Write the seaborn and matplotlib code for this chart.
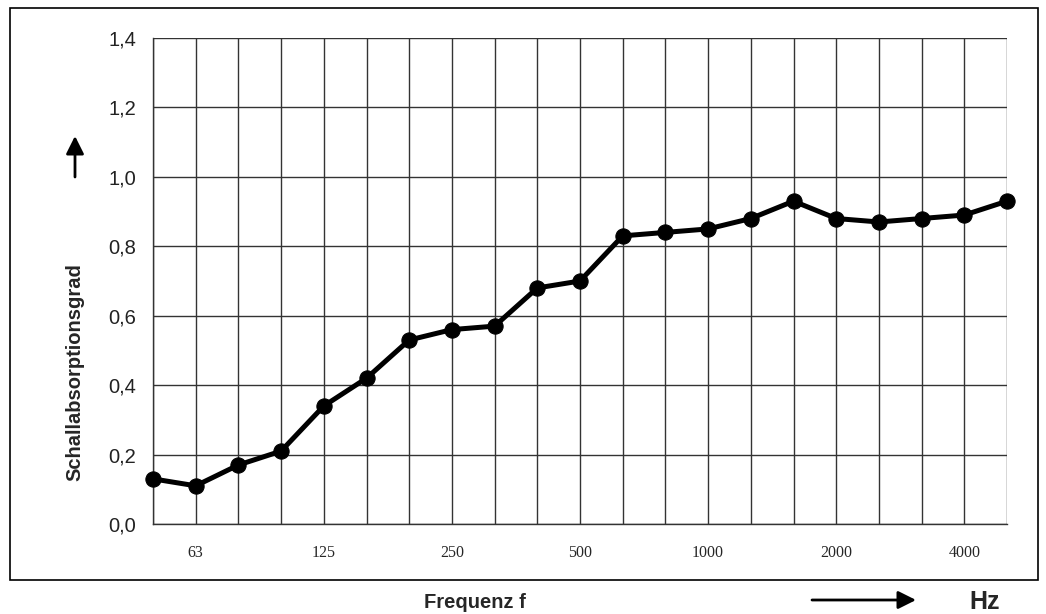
import numpy as np
import pandas as pd
import matplotlib
matplotlib.use("Agg")
import matplotlib.pyplot as plt
import seaborn as sns
from matplotlib.patches import Rectangle

# Terzband-Frequenzen und Schallabsorptionsgrad
frequencies = ["50", "63", "80", "100", "125", "160", "200", "250", "315", "400", "500",
               "630", "800", "1000", "1250", "1600", "2000", "2500", "3150", "4000", "5000"]
absorption = [0.13, 0.11, 0.17, 0.21, 0.34, 0.42, 0.53, 0.56, 0.57, 0.68, 0.70,
              0.83, 0.84, 0.85, 0.88, 0.93, 0.88, 0.87, 0.88, 0.89, 0.93]
labelled = ["63", "125", "250", "500", "1000", "2000", "4000"]
y_ticks = [0.0, 0.2, 0.4, 0.6, 0.8, 1.0, 1.2, 1.4]

df = pd.DataFrame({"pos": np.arange(len(frequencies)), "freq": frequencies, "alpha": absorption})

sns.set_style("white")
plt.rcParams["font.family"] = ["Liberation Sans", "DejaVu Sans"]

fig = plt.figure(figsize=(10.46, 6.14), dpi=100)
ax = fig.add_axes([153 / 1046, 1 - 524 / 614, (1007 - 153) / 1046, (524 - 38) / 614])

sns.lineplot(data=df, x="pos", y="alpha", ax=ax, color="black", linewidth=3.6,
             marker="o", markersize=11, markeredgecolor="black", zorder=5, clip_on=False)

ax.set_xlim(0, len(frequencies) - 1)
ax.set_ylim(0, 1.4)
ax.set_xticks(df["pos"])
ax.set_xticklabels([f if f in labelled else "" for f in frequencies],
                   family="Liberation Serif", fontsize=11.5)
ax.set_yticks(y_ticks)
ax.set_yticklabels([f"{v:.1f}".replace(".", ",") for v in y_ticks], fontsize=14.5, color="#222222")
ax.tick_params(axis="both", direction="out", length=6, width=1, color="#444444", pad=6)
ax.tick_params(axis="x", pad=9)
ax.grid(True, color="#333333", linewidth=1)
for s in ["top", "right"]:
    ax.spines[s].set_visible(False)
for s in ["left", "bottom"]:
    ax.spines[s].set_color("#333333")
    ax.spines[s].set_linewidth(1)
ax.set_xlabel("")
ax.set_ylabel("")

# outer frame
fig.patches.append(Rectangle((10 / 1046, 1 - 580 / 614), (1038 - 10) / 1046, (580 - 8) / 614,
                             transform=fig.transFigure, fill=False, edgecolor="black", linewidth=1.2))

fig.text(75 / 1046, 1 - 372 / 614, "Schallabsorptionsgrad", rotation=90, fontsize=14.5,
         fontweight="bold", ha="center", va="center")
fig.text(475 / 1046, 1 - 602 / 614, "Frequenz f", fontsize=14.5, fontweight="bold",
         ha="center", va="center")
fig.text(985 / 1046, 1 - 602 / 614, "Hz", fontsize=18, fontweight="bold",
         ha="center", va="center")

# arrows
ax_up = fig.add_axes([0, 0, 1, 1], facecolor="none")
ax_up.set_axis_off()
ax_up.set_xlim(0, 1046)
ax_up.set_ylim(614, 0)
ax_up.annotate("", xy=(75, 136), xytext=(75, 177),
               arrowprops=dict(arrowstyle="-|>,head_length=0.6,head_width=0.3", color="black",
                               lw=2, mutation_scale=18, shrinkA=0, shrinkB=0))
ax_up.annotate("", xy=(916, 600), xytext=(812, 600),
               arrowprops=dict(arrowstyle="-|>,head_length=0.6,head_width=0.3", color="black",
                               lw=2, mutation_scale=18, shrinkA=0, shrinkB=0))

fig.savefig("out.png", dpi=100)
